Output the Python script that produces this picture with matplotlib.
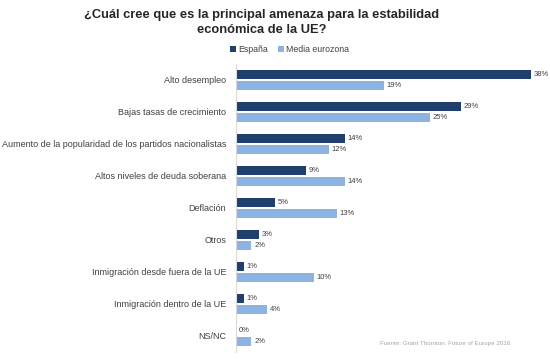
import matplotlib
matplotlib.use("Agg")
import matplotlib.pyplot as plt
import numpy as np

plt.rcParams['font.family'] = ['Liberation Sans', 'DejaVu Sans']

categories = ["Alto desempleo", "Bajas tasas de crecimiento",
              "Aumento de la popularidad de los partidos nacionalistas",
              "Altos niveles de deuda soberana", "Deflación", "Otros",
              "Inmigración desde fuera de la UE", "Inmigración dentro de la UE", "NS/NC"]
espana = [38, 29, 14, 9, 5, 3, 1, 1, 0]
media = [19, 25, 12, 14, 13, 2, 10, 4, 2]
series_names = ["España", "Media eurozona"]

c1 = "#1F3F6F"
c2 = "#8DB3E2"

fig = plt.figure(figsize=(5.5, 3.59), dpi=100)
ax = fig.add_axes([0.429, 0.02, 0.565, 0.802])
y = np.arange(len(categories))
h = 0.28
b1 = ax.barh(y - 0.18, espana, height=h, color=c1, label=series_names[0])
b2 = ax.barh(y + 0.18, media, height=h, color=c2, label=series_names[1])
for bars, vals in ((b1, espana), (b2, media)):
    for rect, v in zip(bars, vals):
        ax.text(rect.get_width() + 0.35, rect.get_y() + rect.get_height() / 2, f"{v}%",
                va="center", ha="left", fontsize=5.5, color="#404040")
ax.set_xlim(0, 40)
ax.set_ylim(8.5, -0.5)
ax.set_yticks(y)
ax.set_yticklabels(categories, fontsize=6.5, color="#404040")
ax.tick_params(axis="y", length=0, pad=7)
ax.set_xticks([])
for s in ["top", "right", "bottom"]:
    ax.spines[s].set_visible(False)
ax.spines["left"].set_color("#D9D9D9")

fig.text(0.476, 0.975, "¿Cuál cree que es la principal amenaza para la estabilidad\neconómica de la UE?",
         ha="center", va="top", fontsize=9.3, fontweight="bold", color="#262626", linespacing=1.3)
fig.legend(handles=[b1, b2], loc="center", bbox_to_anchor=(0.527, 0.862), ncol=2, frameon=False,
           fontsize=6.3, handlelength=0.6, handleheight=0.6, handletextpad=0.3, columnspacing=1.2,
           labelcolor="#404040")
fig.text(0.928, 0.042, "Fuente: Grant Thornton. Future of Europe 2016", ha="right", va="center",
         fontsize=4.5, color="#A6A6A6")

fig.savefig("out.png", dpi=100)
